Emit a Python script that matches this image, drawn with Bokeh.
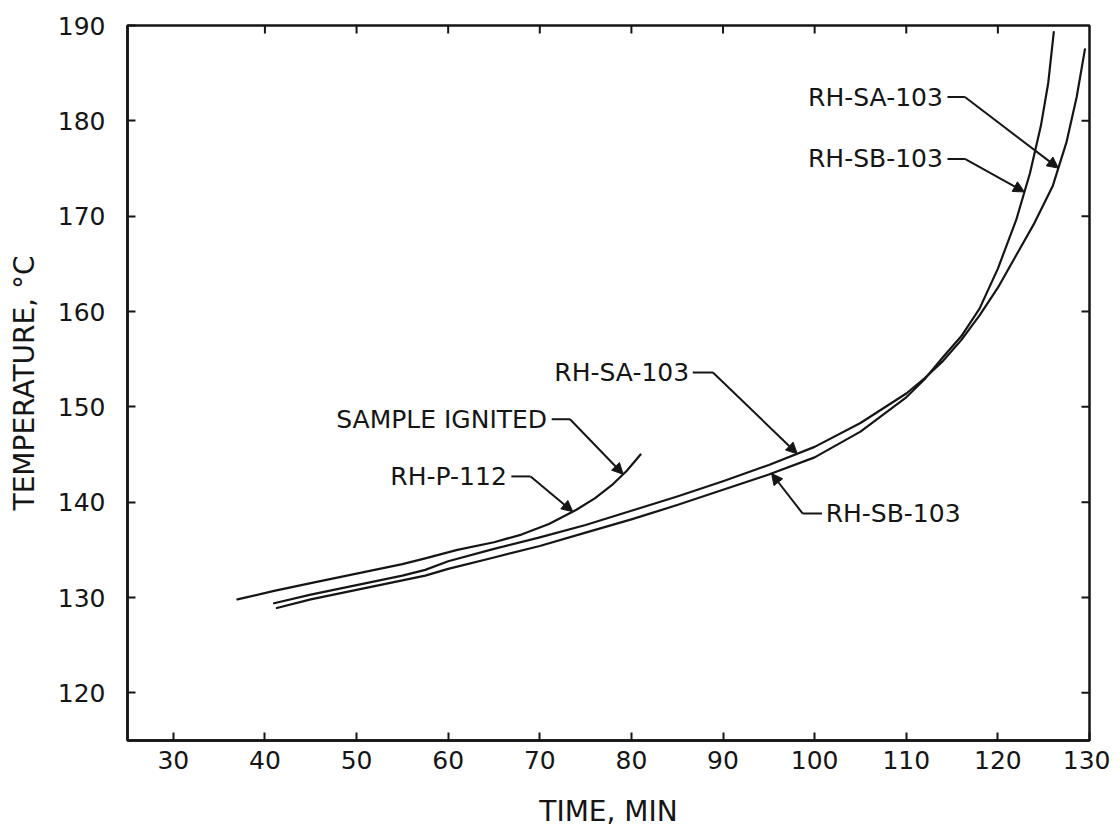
import numpy as np
from bokeh.plotting import figure
from bokeh.models import Range1d, FixedTicker, Arrow, NormalHead, Label
from bokeh.embed import file_html
from bokeh.resources import INLINE

# ---------------- data ----------------
p112_time = [37, 41, 45, 50, 55, 57.5, 61, 65, 68, 71, 74, 76, 78, 79.5, 81]
p112_temp = [129.8, 130.7, 131.5, 132.5, 133.5, 134.1, 135.0, 135.8, 136.6, 137.7,
             139.2, 140.4, 141.9, 143.3, 145.0]

sa_time = [41, 45, 50, 55, 57.5, 60, 65, 70, 75, 80, 85, 90, 95, 100, 105, 110, 112,
           114, 116, 118, 120, 122, 124, 126, 127.5, 128.6, 129.5]
sa_temp = [129.4, 130.3, 131.3, 132.3, 132.9, 133.8, 135.1, 136.3, 137.6, 139.1, 140.6,
           142.2, 143.9, 145.8, 148.3, 151.4, 153.0, 154.8, 157.0, 159.6, 162.5, 165.9,
           169.3, 173.2, 177.8, 182.5, 187.5]

sb_time = [41.3, 45, 50, 55, 57.5, 60, 65, 70, 75, 80, 85, 90, 95, 100, 105, 110, 112,
           114, 116, 118, 120, 122, 123.5, 124.7, 125.5, 126.1]
sb_temp = [128.9, 129.8, 130.8, 131.8, 132.3, 133.0, 134.2, 135.4, 136.8, 138.2, 139.7,
           141.3, 142.9, 144.7, 147.4, 151.0, 152.9, 155.2, 157.4, 160.3, 164.5, 169.6,
           174.5, 179.5, 184.0, 189.3]

x_ticks = [30, 40, 50, 60, 70, 80, 90, 100, 110, 120, 130]
y_ticks = [120, 130, 140, 150, 160, 170, 180, 190]

# ---------------- figure ----------------
FONT = "DejaVu Sans"
INK = "#151515"
X0, X1, Y0, Y1 = 25, 130, 115, 190
FRAME_W, FRAME_H = 962, 715

p = figure(width=1110, height=834, x_range=Range1d(X0, X1), y_range=Range1d(Y0, Y1),
           output_backend="svg", toolbar_location=None,
           min_border_left=127, min_border_right=21, min_border_top=25, min_border_bottom=94)
p.outline_line_color = INK
p.outline_line_width = 2.5
p.xgrid.visible = False
p.ygrid.visible = False
p.background_fill_color = "white"
p.border_fill_color = "white"

for ax in (p.xaxis[0], p.yaxis[0]):
    ax.axis_line_color = INK
    ax.axis_line_width = 2.5
    ax.major_tick_in = 8
    ax.major_tick_out = 0
    ax.minor_tick_line_color = None
    ax.major_tick_line_color = INK
    ax.major_tick_line_width = 2
    ax.major_label_text_font = FONT
    ax.major_label_text_font_size = "25px"
    ax.major_label_text_color = INK
    ax.axis_label_text_font = FONT
    ax.axis_label_text_font_size = "28px"
    ax.axis_label_text_font_style = "normal"
    ax.axis_label_text_color = INK

p.xaxis.ticker = FixedTicker(ticks=x_ticks)
p.yaxis.ticker = FixedTicker(ticks=y_ticks)
p.xaxis.axis_label = "TIME, MIN"
p.yaxis.axis_label = "TEMPERATURE, °C"
p.xaxis.major_label_standoff = 10
p.xaxis.axis_label_standoff = 23
p.yaxis.major_label_standoff = 22
p.yaxis.axis_label_standoff = 14
p.yaxis.major_label_orientation = "horizontal"

# inward tick marks on the top and right frame edges
DX = (X1 - X0) / FRAME_W
DY = (Y1 - Y0) / FRAME_H
top_t = x_ticks[1:-1]
p.segment(x0=top_t, y0=[Y1] * len(top_t), x1=top_t, y1=[Y1 - 8 * DY] * len(top_t),
          line_color=INK, line_width=2)
right_t = y_ticks[:-1]
p.segment(x0=[X1] * len(right_t), y0=right_t, x1=[X1 - 8 * DX] * len(right_t), y1=right_t,
          line_color=INK, line_width=2)

# ---------------- curves ----------------
for xs, ys in ((p112_time, p112_temp), (sa_time, sa_temp), (sb_time, sb_temp)):
    p.line(xs, ys, line_color=INK, line_width=2.2, line_join="round", line_cap="round")

# ---------------- annotations ----------------
def on(curve_x, curve_y, x):
    return float(np.interp(x, curve_x, curve_y))

def callout(text, tx, ty, align, dash_x0, dash_x1, tip_x, cx, cy):
    p.add_layout(Label(x=tx, y=ty, text=text, text_font=FONT, text_font_size="25px",
                       text_color=INK, text_align=align, text_baseline="middle"))
    p.line([dash_x0, dash_x1], [ty, ty], line_color=INK, line_width=2)
    tip_y = on(cx, cy, tip_x)
    p.add_layout(Arrow(x_start=dash_x1, y_start=ty, x_end=tip_x, y_end=tip_y,
                       line_color=INK, line_width=2,
                       end=NormalHead(size=11, fill_color=INK, line_color=INK, line_width=1)))

callout("RH-SA-103", 114.0, 182.5, "right", 114.5, 116.4, 126.6, sa_time, sa_temp)
callout("RH-SB-103", 114.0, 176.0, "right", 114.5, 116.4, 122.9, sb_time, sb_temp)
callout("RH-SA-103", 86.3, 153.6, "right", 86.7, 88.9, 98.1, sa_time, sa_temp)
callout("RH-SB-103", 101.2, 138.8, "left", 100.8, 98.7, 95.3, sb_time, sb_temp)
callout("SAMPLE IGNITED", 70.8, 148.7, "right", 71.3, 73.3, 79.1, p112_time, p112_temp)
callout("RH-P-112", 66.4, 142.7, "right", 66.9, 69.0, 73.6, p112_time, p112_temp)

open("out.html", "w").write(file_html(p, INLINE))
